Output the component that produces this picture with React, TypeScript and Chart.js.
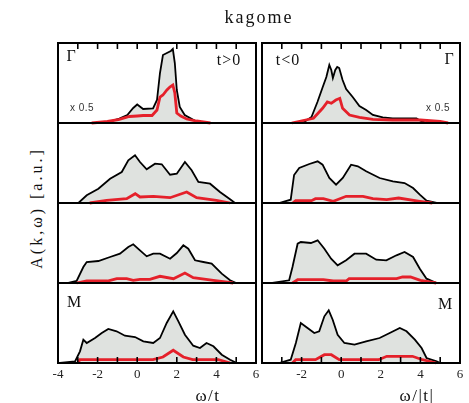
import React, { useEffect, useRef } from "react";
import { Chart, registerables } from "chart.js";

Chart.register(...registerables);

// ---- axis / tick data ----
const X_MIN = -4;
const X_MAX = 6;
const Y_MAX = 80;
const LEFT_TICK_LABELS = [-4, -2, 0, 2, 4, 6];
const RIGHT_TICK_LABELS = [-2, 0, 2, 4, 6];
const MINOR_TICKS = [-3, -2, -1, 0, 1, 2, 3, 4, 5];

// ---- row 1 (Gamma) t>0 ----
const g1X = [-4, -1.8, -1.3, -0.9, -0.5, -0.2, 0.0, 0.3, 0.8, 1.0, 1.15, 1.3, 1.5, 1.7, 1.8, 1.9, 2.0, 2.15, 2.4, 2.9, 3.2, 6];
const g1Black = [0, 0, 2, 4.5, 8, 15, 18.5, 14, 14.5, 23, 50, 68, 70, 72, 74, 60, 33, 16, 8, 2.5, 0, 0];
const g1RedX = [-2.3, -1.5, -0.9, -0.4, 0, 0.3, 0.75, 1.0, 1.15, 1.3, 1.5, 1.65, 1.8, 1.9, 2.0, 2.2, 2.5, 3.0, 3.7];
const g1Red = [0, 1.5, 3.7, 6.5, 7, 7.5, 7.5, 13, 26, 28, 33, 36, 38, 30, 10, 7, 4, 2, 0];

// ---- row 1 (Gamma) t<0 ----
const g2X = [-4, -1.95, -1.5, -1.2, -0.95, -0.75, -0.6, -0.5, -0.42, -0.3, -0.2, -0.1, 0.07, 0.25, 0.58, 0.92, 1.26, 1.6, 2.1, 2.6, 3.8, 4.0, 4.3, 6];
const g2Black = [0, 0, 6, 21, 35, 46, 58, 53, 45, 53, 56, 55, 43, 34, 26, 17, 13, 8, 5.7, 4.7, 4.7, 2.3, 0, 0];
const g2RedX = [-2.5, -1.4, -0.94, -0.7, -0.5, -0.27, -0.07, 0.07, 0.42, 0.92, 1.6, 2.6, 4.0, 5.0, 5.4];
const g2Red = [0, 4.7, 14.7, 21, 19.7, 23, 24.7, 14.7, 8, 5.7, 3.7, 3, 3, 1.5, 0];

// ---- row 2 t>0 ----
const b1X = [-4, -2.97, -2.55, -1.96, -1.37, -0.78, -0.45, -0.11, 0.14, 0.48, 0.9, 1.24, 1.66, 2.0, 2.41, 2.75, 3.09, 3.68, 4.18, 4.69, 4.94, 6];
const b1Black = [0, 0, 7.7, 14.3, 24.3, 31, 42.7, 47.7, 41, 33.7, 39.3, 38.7, 28.3, 29.3, 41, 32.7, 21, 19.3, 11, 3.7, 0, 0];
const b1RedX = [-2.4, -1.54, -0.53, -0.1, 0.14, 0.82, 1.66, 2.5, 3.0, 4.0, 4.7];
const b1Red = [0, 2.7, 4.3, 9.3, 6, 6.7, 5.3, 11, 5.3, 2.7, 0];

// ---- row 2 t<0 ----
const b2X = [-4, -3.14, -2.55, -2.38, -2.12, -1.61, -1.19, -0.94, -0.6, -0.26, 0.08, 0.5, 0.84, 1.26, 1.94, 2.61, 3.2, 3.63, 3.97, 4.31, 4.82, 6];
const b2Black = [0, 0, 3.3, 28, 35, 39, 41.7, 38.3, 25, 18.3, 25, 38.3, 36.7, 31.7, 25, 21.7, 20, 15, 8.3, 2.3, 0, 0];
const b2RedX = [-2.45, -2.3, -1.5, -1.3, -0.9, -0.4, 0.25, 1.1, 1.6, 2.3, 2.9, 3.97, 4.6];
const b2Red = [0, 2.3, 2.3, 4.3, 4.3, 1.7, 6.7, 6.7, 4.3, 3.3, 5, 1.7, 0];

// ---- row 3 t>0 ----
const c1X = [-4, -3.48, -3.06, -2.72, -2.55, -1.96, -1.37, -0.87, -0.45, -0.2, 0.14, 0.48, 0.81, 1.15, 1.66, 2.0, 2.33, 2.58, 2.92, 3.34, 3.76, 4.27, 4.69, 5.0, 6];
const c1Black = [0, 0, 2, 16, 21, 22, 26, 29.3, 36, 38.7, 32.7, 26.7, 29.3, 29.3, 24.3, 30, 37.7, 34.3, 22.7, 21, 19.3, 9.3, 2.7, 0, 0];
const c1RedX = [-3.06, -2.55, -1.5, -1.03, -0.53, -0.2, 0.14, 0.64, 1.15, 1.83, 2.41, 2.83, 3.85, 4.85];
const c1Red = [0, 2, 2, 4.3, 4.3, 2.7, 3.7, 3.7, 6.7, 4.3, 10, 5.3, 2.7, 0];

// ---- row 3 t<0 ----
const c2X = [-4, -3.48, -2.63, -2.46, -2.2, -2.04, -1.53, -1.19, -0.85, -0.51, -0.18, 0.25, 0.67, 1.26, 1.77, 2.28, 2.79, 3.2, 3.63, 3.97, 4.31, 4.82, 6];
const c2Black = [0, 0, 2.7, 16, 39.3, 41, 40, 42.7, 34.3, 24.3, 17.7, 22.7, 29.3, 29.3, 23.3, 22.7, 27.7, 31, 26, 14.3, 4.3, 0, 0];
const c2RedX = [-2.46, -2.2, -0.9, -0.4, 0.25, 0.4, 2.8, 3.1, 3.5, 4.0, 4.8];
const c2Red = [0, 3.3, 3.3, 2, 2, 4.3, 4.3, 6, 6, 2.7, 0];

// ---- row 4 (M) t>0 ----
const m1X = [-4, -3.9, -3.14, -2.89, -2.72, -2.55, -2.13, -1.79, -1.46, -1.04, -0.62, -0.11, 0.31, 0.81, 1.15, 1.49, 1.82, 2.08, 2.41, 2.83, 3.17, 3.5, 3.85, 4.27, 4.69, 5.03, 6];
const m1Black = [0, 0, 1.7, 11.7, 23.3, 20, 25, 30, 34, 31.7, 27.3, 26, 21.7, 20, 25, 40, 51.7, 41.7, 28.3, 17.3, 15, 20, 16.7, 8.3, 3.3, 0, 0];
const m1RedX = [-3, -2.9, 0.8, 1.3, 1.82, 2.33, 2.8, 4.1, 4.7];
const m1Red = [0, 3.3, 3.3, 6, 12.7, 6, 3.3, 3.3, 0];

// ---- row 4 (M) t<0 ----
const m2X = [-4, -3.14, -2.55, -2.29, -2.04, -1.7, -1.36, -1.11, -0.85, -0.63, -0.43, -0.18, 0.16, 0.67, 1.26, 1.94, 2.45, 2.96, 3.3, 3.72, 4.06, 4.31, 4.82, 5.0, 6];
const m2Black = [0, 0, 3.3, 20, 40, 35, 30, 31.7, 46.7, 52.7, 43.3, 28.3, 20, 18.3, 21.7, 25, 30, 35, 31.7, 23.3, 15, 5, 1.7, 0, 0];
const m2RedX = [-2.46, -2.3, -1.3, -0.85, -0.5, -0.1, 1.9, 2.3, 3.6, 4.1, 4.8];
const m2Red = [0, 3.3, 3.3, 8.3, 8.3, 3.3, 3.3, 6.7, 6.7, 3.3, 0];

// ---- layout ----
const COL_X = [58, 262];
const COL_W = 198;
const ROW_Y = [43, 123, 203, 283];
const ROW_H = 80;
const MARGIN = 10;
const EXTRA_BOTTOM = 26;

const SERIF = '"Liberation Serif", "DejaVu Serif", serif';
const FILL = "#dfe2df";
const RED = "#e5202a";

type PanelProps = {
  col: number;
  row: number;
  bx: number[];
  by: number[];
  rx: number[];
  ry: number[];
};

function zip(xs: number[], ys: number[]) {
  return xs.map((x, i) => ({ x, y: ys[i] }));
}

function Panel({ col, row, bx, by, rx, ry }: PanelProps) {
  const ref = useRef<HTMLCanvasElement>(null);
  const isTop = row === 0;
  const isBottom = row === 3;
  const extra = isBottom ? EXTRA_BOTTOM : 0;
  const cw = COL_W + 2 * MARGIN;
  const ch = ROW_H + 2 * MARGIN + extra;

  useEffect(() => {
    if (!ref.current) return;
    const tickLabels = col === 0 ? LEFT_TICK_LABELS : RIGHT_TICK_LABELS;
    const framePlugin = {
      id: "frame",
      afterDraw(chart: any) {
        const { ctx, chartArea: a, scales } = chart;
        const xs = scales.x;
        ctx.save();
        ctx.strokeStyle = "#000";
        ctx.lineWidth = 2;
        ctx.strokeRect(a.left, a.top, a.right - a.left, a.bottom - a.top);
        ctx.lineWidth = 1.6;
        if (isTop) {
          for (const t of MINOR_TICKS) {
            const px = xs.getPixelForValue(t);
            ctx.beginPath();
            ctx.moveTo(px, a.top);
            ctx.lineTo(px, a.top + 6);
            ctx.stroke();
          }
        }
        if (isBottom) {
          for (const t of MINOR_TICKS) {
            const px = xs.getPixelForValue(t);
            ctx.beginPath();
            ctx.moveTo(px, a.bottom);
            ctx.lineTo(px, a.bottom - 6);
            ctx.stroke();
          }
          ctx.fillStyle = "#222";
          ctx.font = `13px ${SERIF}`;
          ctx.textAlign = "center";
          ctx.textBaseline = "middle";
          for (const t of tickLabels) {
            ctx.fillText(String(t), xs.getPixelForValue(t), a.bottom + 12);
          }
        }
        ctx.restore();
      },
    };

    const chart = new Chart(ref.current, {
      type: "line",
      data: {
        datasets: [
          {
            data: zip(rx, ry),
            borderColor: RED,
            borderWidth: 2.8,
            pointRadius: 0,
            fill: false,
            tension: 0,
            order: 0,
            clip: 3,
          },
          {
            data: zip(bx, by),
            borderColor: "#000",
            borderWidth: 1.8,
            backgroundColor: FILL,
            pointRadius: 0,
            fill: "origin",
            tension: 0,
            order: 1,
          },
        ],
      },
      options: {
        responsive: false,
        animation: false,
        devicePixelRatio: 1,
        layout: {
          padding: { left: MARGIN, right: MARGIN, top: MARGIN, bottom: MARGIN + extra },
        },
        plugins: {
          legend: { display: false },
          tooltip: { enabled: false },
          title: { display: false },
        },
        scales: {
          x: { type: "linear", min: X_MIN, max: X_MAX, display: false },
          y: { type: "linear", min: 0, max: Y_MAX, display: false },
        },
      },
      plugins: [framePlugin],
    } as any);
    return () => chart.destroy();
  }, []);

  return (
    <canvas
      ref={ref}
      width={cw}
      height={ch}
      style={{
        position: "absolute",
        left: COL_X[col] - MARGIN,
        top: ROW_Y[row] - MARGIN,
        width: cw,
        height: ch,
      }}
    />
  );
}

function Label({
  x,
  y,
  text,
  size = 15,
  family = SERIF,
  spacing = 0,
  rotate = 0,
  color = "#111",
}: {
  x: number;
  y: number;
  text: string;
  size?: number;
  family?: string;
  spacing?: number;
  rotate?: number;
  color?: string;
}) {
  return (
    <div
      style={{
        position: "absolute",
        left: x,
        top: y,
        transform: `translate(-50%, -50%) rotate(${rotate}deg)`,
        fontFamily: family,
        fontSize: size,
        letterSpacing: spacing,
        color,
        whiteSpace: "nowrap",
        lineHeight: 1,
      }}
    >
      {text}
    </div>
  );
}

export default function App() {
  useEffect(() => {
    document.body.style.margin = "0";
  }, []);
  const SANS = '"Liberation Sans", Arial, sans-serif';
  return (
    <div style={{ position: "fixed", left: 0, top: 0, width: 469, height: 403, background: "#fff", overflow: "hidden" }}>
      <Panel col={0} row={0} bx={g1X} by={g1Black} rx={g1RedX} ry={g1Red} />
      <Panel col={1} row={0} bx={g2X} by={g2Black} rx={g2RedX} ry={g2Red} />
      <Panel col={0} row={1} bx={b1X} by={b1Black} rx={b1RedX} ry={b1Red} />
      <Panel col={1} row={1} bx={b2X} by={b2Black} rx={b2RedX} ry={b2Red} />
      <Panel col={0} row={2} bx={c1X} by={c1Black} rx={c1RedX} ry={c1Red} />
      <Panel col={1} row={2} bx={c2X} by={c2Black} rx={c2RedX} ry={c2Red} />
      <Panel col={0} row={3} bx={m1X} by={m1Black} rx={m1RedX} ry={m1Red} />
      <Panel col={1} row={3} bx={m2X} by={m2Black} rx={m2RedX} ry={m2Red} />

      <Label x={259} y={17} text="kagome" size={18} spacing={2} />
      <Label x={37} y={208} text="A(k,ω) [a.u.]" size={16} spacing={3} rotate={-90} />
      <Label x={208} y={395} text="ω/t" size={17} spacing={1.5} />
      <Label x={417} y={395} text="ω/|t|" size={17} spacing={1.5} />

      <Label x={71} y={56} text="Γ" size={16} />
      <Label x={229} y={60} text="t>0" size={16} spacing={1} />
      <Label x={288} y={60} text="t<0" size={16} spacing={1} />
      <Label x={449} y={59} text="Γ" size={16} />
      <Label x={82} y={108} text="x 0.5" size={10} family={SANS} spacing={0.5} color="#333" />
      <Label x={438} y={108} text="x 0.5" size={10} family={SANS} spacing={0.5} color="#333" />
      <Label x={74} y={302} text="M" size={16} />
      <Label x={445} y={304} text="M" size={16} />
    </div>
  );
}
